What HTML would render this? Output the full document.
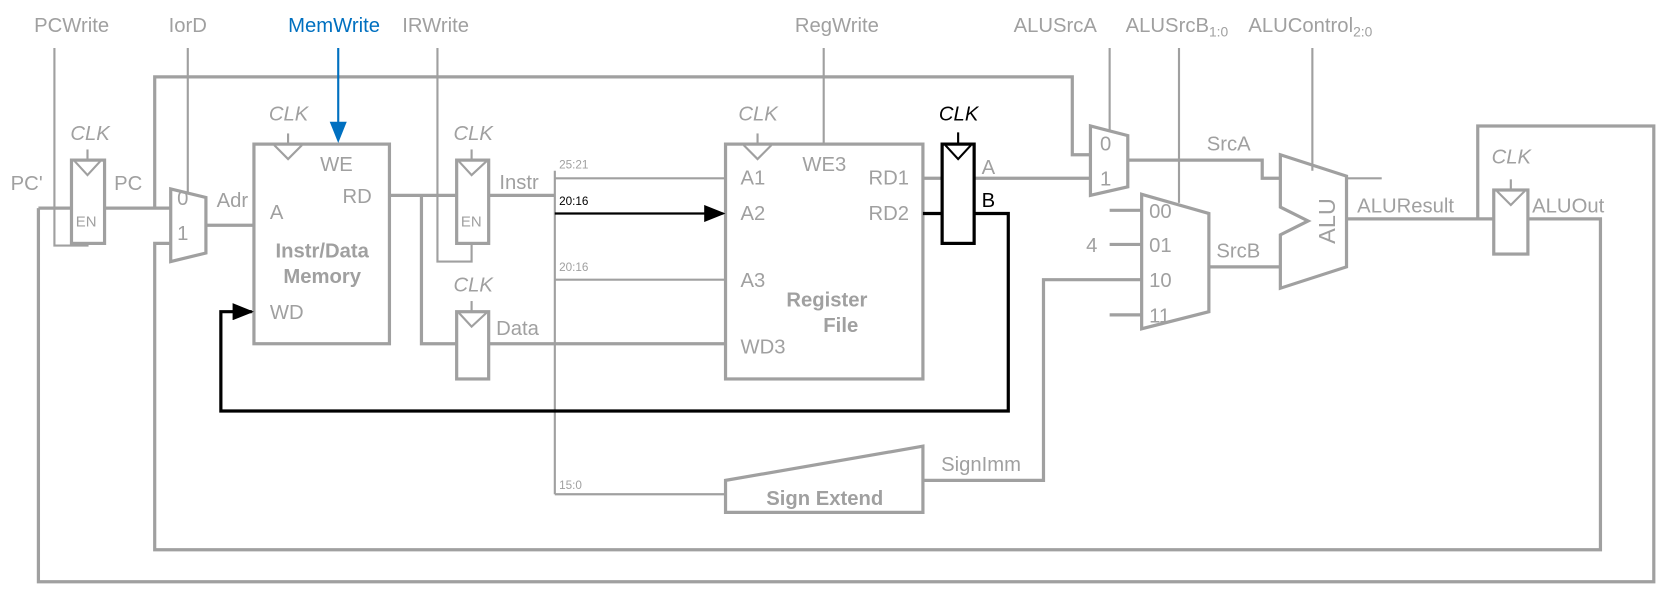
<!DOCTYPE html>
<html><head><meta charset="utf-8"><style>
html,body{margin:0;padding:0;background:#fff;}
svg{display:block;}
text{font-family:"Liberation Sans",sans-serif;font-size:19px;fill:#a0a0a0;}
.i{font-style:italic;}
.b{font-weight:bold;}
.s{font-size:13px;}
.t{font-size:11px;}
</style></head><body>
<svg width="1673" height="601" viewBox="0 0 1568 563" preserveAspectRatio="none" xmlns="http://www.w3.org/2000/svg">
<defs>
<marker id="ak" markerWidth="20" markerHeight="16" refX="18" refY="8" orient="auto" markerUnits="userSpaceOnUse"><path d="M0,0 L20,8 L0,16z" fill="#000"/></marker>
</defs>
<g fill="none" stroke="#a0a0a0" stroke-width="3">
<polyline points="36,195 36,545 1550,545 1550,118 1385,118 1385,205"/>
<polyline points="160,228 145,228 145,515 1500,515 1500,205 1432,205"/>
<polyline points="145,195 145,72 1005,72 1005,145 1022,145"/>
<line x1="36" y1="195" x2="67" y2="195"/>
<rect x="67" y="150" width="31" height="78"/>
<line x1="98" y1="195" x2="160" y2="195"/>
<polygon points="160,177 193,185 193,237 160,245"/>
<line x1="193" y1="211" x2="238" y2="211"/>
<rect x="238" y="135" width="127" height="187"/>
<polyline points="365,183 428,183"/>
<polyline points="395,183 395,322 428,322"/>
<rect x="428" y="150" width="30" height="78"/>
<rect x="428" y="292" width="30" height="63"/>
<line x1="458" y1="183" x2="520" y2="183"/>
<line x1="458" y1="322" x2="680" y2="322"/>
<rect x="680" y="135" width="185" height="220"/>
<polygon points="680,450 865,418 865,480 680,480"/>
<polyline points="865,450 978,450 978,262 1070,262"/>
<line x1="865" y1="167" x2="883" y2="167"/>
<line x1="913" y1="167" x2="1022" y2="167"/>
<polygon points="1022,118 1057,127 1057,175 1022,183"/>
<polyline points="1057,150 1183,150 1183,167 1200,167"/>
<polygon points="1070,182 1133,200 1133,292 1070,308"/>
<line x1="1040" y1="197" x2="1070" y2="197"/>
<line x1="1040" y1="229" x2="1070" y2="229"/>
<line x1="1040" y1="295" x2="1070" y2="295"/>
<line x1="1133" y1="250" x2="1200" y2="250"/>
<polygon points="1200,145 1262,165 1262,250 1200,270 1200,220 1226,207 1200,194"/>
<line x1="1262" y1="205" x2="1400" y2="205"/>
<rect x="1400" y="178" width="32" height="60"/>
</g>
<g fill="none" stroke="#a0a0a0" stroke-width="2">
<polyline points="51,45 51,230 82,230 82,228"/>
<line x1="176" y1="45" x2="176" y2="180"/>
<polyline points="410,45 410,245 442,245 442,228"/>
<line x1="520" y1="160" x2="520" y2="463"/>
<line x1="520" y1="167" x2="680" y2="167"/>
<line x1="520" y1="262" x2="680" y2="262"/>
<line x1="520" y1="463" x2="680" y2="463"/>
<line x1="772" y1="45" x2="772" y2="135"/>
<line x1="1040" y1="45" x2="1040" y2="122"/>
<line x1="1105" y1="45" x2="1105" y2="190"/>
<line x1="1230" y1="45" x2="1230" y2="160"/>
<line x1="1262" y1="167" x2="1295" y2="167"/>
<line x1="82" y1="140" x2="82" y2="150"/><polyline points="70,151 82,164 94,151"/>
<line x1="270" y1="125" x2="270" y2="136"/><polyline points="257,136 270,149 283,136"/>
<line x1="442" y1="140" x2="442" y2="150"/><polyline points="430,151 442,164 456,151"/>
<line x1="442" y1="282" x2="442" y2="292"/><polyline points="430,293 442,306 456,293"/>
<line x1="710" y1="125" x2="710" y2="136"/><polyline points="697,136 710,149 723,136"/>
<line x1="1416" y1="168" x2="1416" y2="178"/><polyline points="1403,179 1416,192 1429,179"/>
</g>
<g fill="none" stroke="#000" stroke-width="3">
<rect x="883" y="135" width="30" height="93"/>
<polyline points="865,200 883,200"/>
<polyline points="913,200 945,200 945,385 207,385 207,292 236,292" marker-end="url(#ak)"/>
<line x1="898" y1="124" x2="898" y2="135" stroke-width="2"/><polyline points="886,136 898,149 910,136" stroke-width="2"/>
</g>
<line x1="520" y1="200" x2="678" y2="200" stroke="#000" stroke-width="2" marker-end="url(#ak)"/>
<line x1="317" y1="45" x2="317" y2="115" stroke="#0070c0" stroke-width="2"/>
<path d="M309,114 L325,114 L317,134z" fill="#0070c0"/>
<text x="32" y="30">PCWrite</text>
<text x="158" y="30">IorD</text>
<text x="270" y="30" style="fill:#0070c0">MemWrite</text>
<text x="377" y="30">IRWrite</text>
<text x="745" y="30">RegWrite</text>
<text x="950" y="30">ALUSrcA</text>
<text x="1055" y="30">ALUSrcB<tspan class="s" dy="4">1:0</tspan></text>
<text x="1170" y="30">ALUControl<tspan class="s" dy="4">2:0</tspan></text>
<text class="i" x="66" y="131">CLK</text>
<text class="i" x="252" y="113">CLK</text>
<text class="i" x="425" y="131">CLK</text>
<text class="i" x="425" y="273">CLK</text>
<text class="i" x="692" y="113">CLK</text>
<text class="i" x="880" y="113" style="fill:#000">CLK</text>
<text class="i" x="1398" y="153">CLK</text>
<text x="10" y="178">PC'</text>
<text x="107" y="178">PC</text>
<text x="71" y="212" style="font-size:14px">EN</text>
<text x="432" y="212" style="font-size:14px">EN</text>
<text x="166" y="192">0</text>
<text x="166" y="225">1</text>
<text x="203" y="194">Adr</text>
<text x="253" y="205">A</text>
<text x="300" y="160">WE</text>
<text x="321" y="190">RD</text>
<text x="253" y="299">WD</text>
<text class="b" x="302" y="241" text-anchor="middle">Instr/Data</text>
<text class="b" x="302" y="265" text-anchor="middle">Memory</text>
<text x="468" y="177">Instr</text>
<text x="465" y="314">Data</text>
<text class="t" x="524" y="158">25:21</text>
<text class="t" x="524" y="192" style="fill:#000">20:16</text>
<text class="t" x="524" y="254">20:16</text>
<text class="t" x="524" y="458">15:0</text>
<text x="694" y="173">A1</text>
<text x="694" y="206">A2</text>
<text x="694" y="269">A3</text>
<text x="694" y="331">WD3</text>
<text x="752" y="160">WE3</text>
<text x="814" y="173">RD1</text>
<text x="814" y="206">RD2</text>
<text class="b" x="775" y="287" text-anchor="middle">Register</text>
<text class="b" x="788" y="311" text-anchor="middle">File</text>
<text class="b" x="773" y="473" text-anchor="middle">Sign Extend</text>
<text x="882" y="441">SignImm</text>
<text x="920" y="163">A</text>
<text x="920" y="194" style="fill:#000">B</text>
<text x="1031" y="141">0</text>
<text x="1031" y="174">1</text>
<text x="1131" y="141">SrcA</text>
<text x="1077" y="204">00</text>
<text x="1077" y="236">01</text>
<text x="1077" y="269">10</text>
<text x="1077" y="302">11</text>
<text x="1018" y="236">4</text>
<text x="1140" y="241">SrcB</text>
<text x="1272" y="199">ALUResult</text>
<text x="1436" y="199">ALUOut</text>
<text x="1251" y="207" text-anchor="middle" transform="rotate(-90 1251 207)" style="font-size:22px">ALU</text>
</svg>
</body></html>
